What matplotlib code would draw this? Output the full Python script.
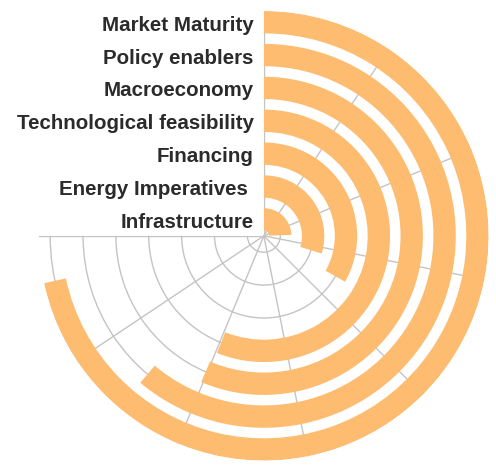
import numpy as np
import matplotlib
matplotlib.use("Agg")
import matplotlib.pyplot as plt
from matplotlib.transforms import offset_copy

# Data (inner ring -> outer ring)
categories = ["Infrastructure", "Energy Imperatives ", "Financing", "Technological feasibility",
              "Macroeconomy", "Policy enablers", "Market Maturity"]
values = [26.1, 31.7, 35.4, 59.8, 60.2, 65.2, 76.4]
scale_max = 80
tick_step = 10

bar_color = "#fdbc70"
grid_color = "#c4c4c4"
text_color = "#2b2b2b"

fig = plt.figure(figsize=(4.96, 4.68), dpi=100)
ax = fig.add_axes([39/496, 3/468, 454/496, 454/468], polar=True, frameon=False)
ax.set_theta_zero_location("N")
ax.set_theta_direction(-1)
ax.set_thetamin(0)
ax.set_thetamax(270)

full = np.deg2rad(270)
to_theta = lambda v: np.asarray(v) * full / scale_max

ypos = np.arange(len(categories))
ax.barh(ypos, to_theta(values), left=0, height=0.68, color=bar_color,
        edgecolor="none", zorder=5)

ax.set_ylim(-0.5, 6.34)
ax.set_xticks(to_theta(np.arange(0, scale_max + 1, tick_step)))
ax.set_xticklabels([])
ax.set_yticks(ypos)
ax.set_yticklabels([])
ax.tick_params(length=0, width=0)
ax.grid(True, color=grid_color, linewidth=1.0)
ax.set_axisbelow(True)
for s in ax.spines.values():
    s.set_visible(False)
    s.set_linewidth(0)

trans = offset_copy(ax.transData, fig=fig, x=-10, y=-3, units="dots")
for i, c in enumerate(categories):
    ax.text(0, i, c, transform=trans, ha="right", va="center",
            fontsize=14.8, fontweight="bold", color=text_color,
            family=["Liberation Sans", "DejaVu Sans"], zorder=6)

fig.savefig("out.png", dpi=100, facecolor="white")
